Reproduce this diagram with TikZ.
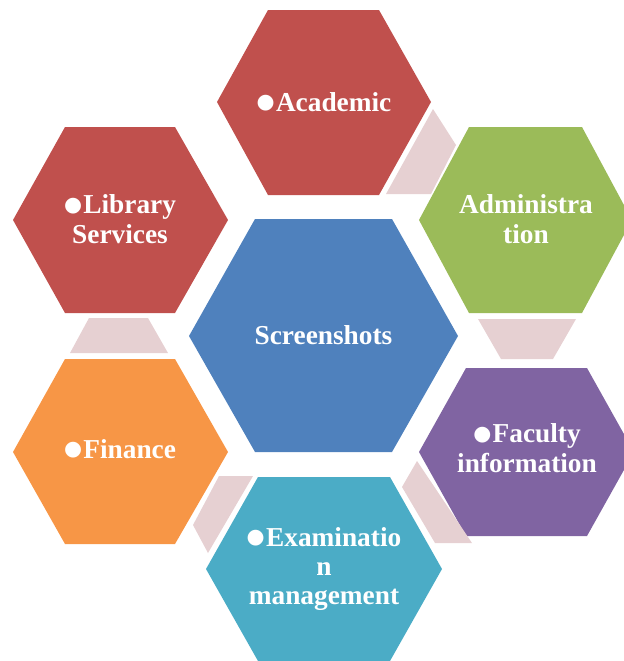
\documentclass[tikz,border=0pt]{standalone}
\usepackage{fontspec}
\setmainfont{Liberation Serif}
\newfontfamily\bulletfont{DejaVu Sans}
\newcommand\bul{\raisebox{1.8pt}{\bulletfont\fontsize{15.5}{15.5}\selectfont ●}\hspace{1pt}}
\definecolor{hexred}{HTML}{C0504D}
\definecolor{hexgreen}{HTML}{9BBB59}
\definecolor{hexpurple}{HTML}{8064A2}
\definecolor{hexteal}{HTML}{4BACC6}
\definecolor{hexorange}{HTML}{F79646}
\definecolor{hexblue}{HTML}{4F81BD}
\definecolor{linkpink}{HTML}{E6D0D2}
\tikzset{
  hextext/.style={text=white,align=center,
    font=\bfseries\fontsize{20.5}{22}\selectfont},
  link/.style={fill=linkpink}}

\begin{document}
\begin{tikzpicture}[x=0.75pt,y=-0.75pt]
\clip (0,0) rectangle (624,661);
% hexagons
\fill[hexred] (217,102) -- (268,10) -- (379,10) --
  (431,102) -- (379,195) -- (268,195) -- cycle;
\fill[hexgreen] (419,220) -- (469,127) -- (582,127) --
  (632,220) -- (582,313) -- (469,313) -- cycle;
\fill[hexpurple] (419,452) -- (466,368) -- (587,368) --
  (634,452) -- (587,536) -- (466,536) -- cycle;
\fill[hexteal] (206,569) -- (258,477) -- (390,477) --
  (442,569) -- (390,661) -- (258,661) -- cycle;
\fill[hexorange] (13,452) -- (65,359) -- (175,359) --
  (228,452) -- (175,544) -- (65,544) -- cycle;
\fill[hexred] (13,220) -- (65,127) -- (175,127) --
  (228,220) -- (175,313) -- (65,313) -- cycle;
\fill[hexblue] (189,336) -- (255,219) -- (392,219) --
  (458,336) -- (392,452) -- (255,452) -- cycle;
% links
\fill[link] (386,194) -- (433,109) -- (456,145) -- (431,194) -- cycle;
\fill[link] (478,319) -- (576,319) -- (553,359) -- (501,359) -- cycle;
\fill[link] (417,461) -- (472,543) -- (435,543) -- (402,487) -- cycle;
\fill[link] (219,476) -- (253,476) -- (208,553) -- (193,525) -- cycle;
\fill[link] (89,318) -- (148,318) -- (168,353) -- (70,353) -- cycle;
% texts
\node[hextext] (screens) at (323.5,335) {Screenshots};
\node[hextext] (academic) at (324,102) {\bul Academic};
\node[hextext] (admin) at (526,219) {Administra\\tion};
\node[hextext] (faculty) at (527,448) {\bul Faculty\\information};
\node[hextext] (exam) at (324,569) {\bul Examinatio\\n\\management};
\node[hextext] (finance) at (120,449) {\bul Finance};
\node[hextext] (library) at (120,219) {\bul Library\\Services};
\end{tikzpicture}
\end{document}
